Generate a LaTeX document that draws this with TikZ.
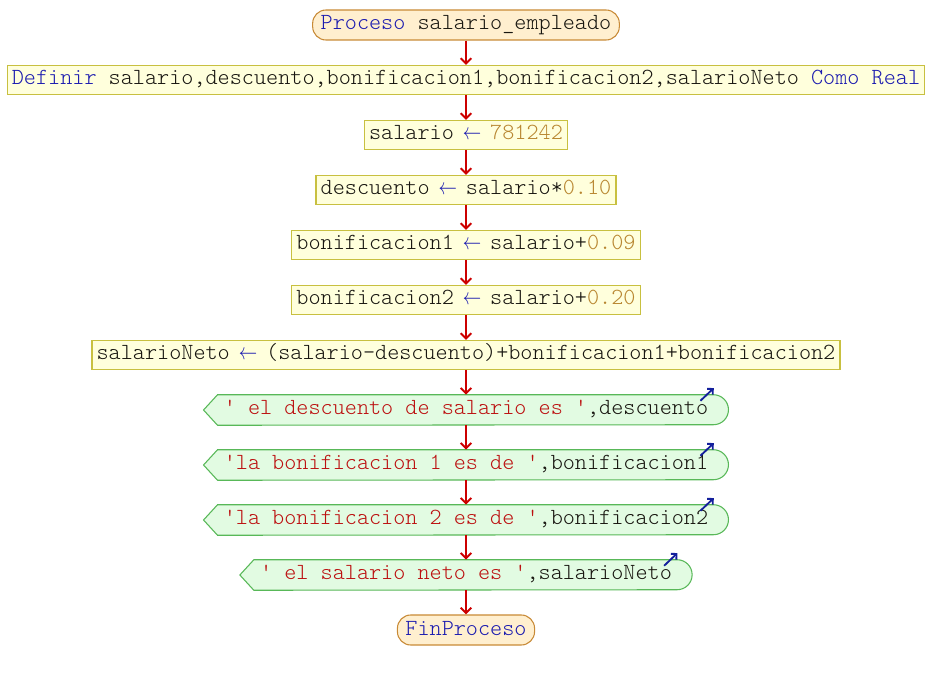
\documentclass[tikz,border=0pt]{standalone}
\usepackage{fontspec}
\setmonofont{lmmonolt10-regular.otf}
\usepackage{xcolor}
\usetikzlibrary{positioning,arrows.meta,backgrounds}
\definecolor{kwazul}{HTML}{1C1CB0}
\definecolor{numocre}{HTML}{B88630}
\definecolor{cadrojo}{HTML}{BC1010}
\definecolor{ident}{HTML}{181610}
\definecolor{flecha}{HTML}{CC0000}
\definecolor{procfill}{HTML}{FFFFDC}
\definecolor{procborde}{HTML}{C8C040}
\definecolor{iniciofill}{HTML}{FFEFCF}
\definecolor{inicioborde}{HTML}{C88A36}
\definecolor{salfill}{HTML}{E2FBE2}
\definecolor{salborde}{HTML}{58B858}
\definecolor{flechita}{HTML}{14209C}
\newcommand{\pkw}[1]{\textcolor{kwazul}{#1}}
\newcommand{\pnum}[1]{\textcolor{numocre}{#1}}
\newcommand{\pcad}[1]{\textcolor{cadrojo}{#1}}
\newcommand{\asig}{\textcolor{kwazul}{\makebox[0.525em]{\scalebox{0.8}[1]{$\leftarrow$}}}}

\begin{document}
\begin{tikzpicture}[on grid, node distance=41.25pt,
    every node/.style={font=\ttfamily\fontsize{17.3pt}{20pt}\selectfont, text=ident,
      text height=11pt, text depth=3.5pt},
    inicio/.style={draw=inicioborde, fill=iniciofill, rounded corners=10pt,
      minimum height=22.5pt, inner xsep=6pt, line width=0.8pt},
    proc/.style={draw=procborde, fill=procfill, minimum height=21.75pt,
      inner xsep=3.5pt, line width=0.8pt},
    salida/.style={minimum height=22.5pt, inner xsep=15pt},
    flujo/.style={draw=flecha, line width=1.5pt, -{Straight Barb[length=4pt,width=8pt]}},
    escribe/.style={draw=flechita, line width=1.4pt, -{Straight Barb[length=3pt,width=6pt]}}]
  \useasboundingbox (-349.5pt,18.75pt) rectangle (349.5pt,-491.25pt);
  \node[inicio] (ini) at (0,0) {\pkw{Proceso} salario\_empleado};
  \node[proc, below=of ini] (def) {\pkw{Definir} salario,descuento,bonificacion1,bonificacion2,salarioNeto \pkw{Como} \pkw{Real}};
  \node[proc, below=of def] (p1) {salario \asig{} \pnum{781242}};
  \node[proc, below=of p1] (p2) {descuento \asig{} salario*\pnum{0.10}};
  \node[proc, below=of p2] (p3) {bonificacion1 \asig{} salario+\pnum{0.09}};
  \node[proc, below=of p3] (p4) {bonificacion2 \asig{} salario+\pnum{0.20}};
  \node[proc, below=of p4] (p5) {salarioNeto \asig{} (salario-descuento)+bonificacion1+bonificacion2};
  \node[salida, below=of p5] (s1) {\pcad{' el descuento de salario es '},descuento};
  \node[salida, below=of s1] (s2) {\pcad{'la bonificacion 1 es de '},bonificacion1};
  \node[salida, below=of s2] (s3) {\pcad{'la bonificacion 2 es de '},bonificacion2};
  \node[salida, below=of s3] (s4) {\pcad{' el salario neto es '},salarioNeto};
  \node[inicio, below=of s4] (fin) {\pkw{FinProceso}};
  \begin{scope}[on background layer]
    \foreach \s in {s1,s2,s3,s4}
      \draw[draw=salborde, fill=salfill, line width=0.8pt]
        (\s.west) -- ([xshift=10.5pt]\s.north west) -- ([xshift=-11.25pt]\s.north east)
        arc[start angle=90, end angle=-90, radius=11.25pt]
        -- ([xshift=10.5pt]\s.south west) -- cycle;
  \end{scope}
  \foreach \s in {s1,s2,s3,s4}
    \draw[escribe] ([xshift=-21pt,yshift=-4.5pt]\s.north east) -- ([xshift=-11pt,yshift=5pt]\s.north east);
  \foreach \a/\b in {ini/def,def/p1,p1/p2,p2/p3,p3/p4,p4/p5,p5/s1,s1/s2,s2/s3,s3/s4,s4/fin}
    \draw[flujo] (\a) -- (\b);
\end{tikzpicture}
\end{document}
